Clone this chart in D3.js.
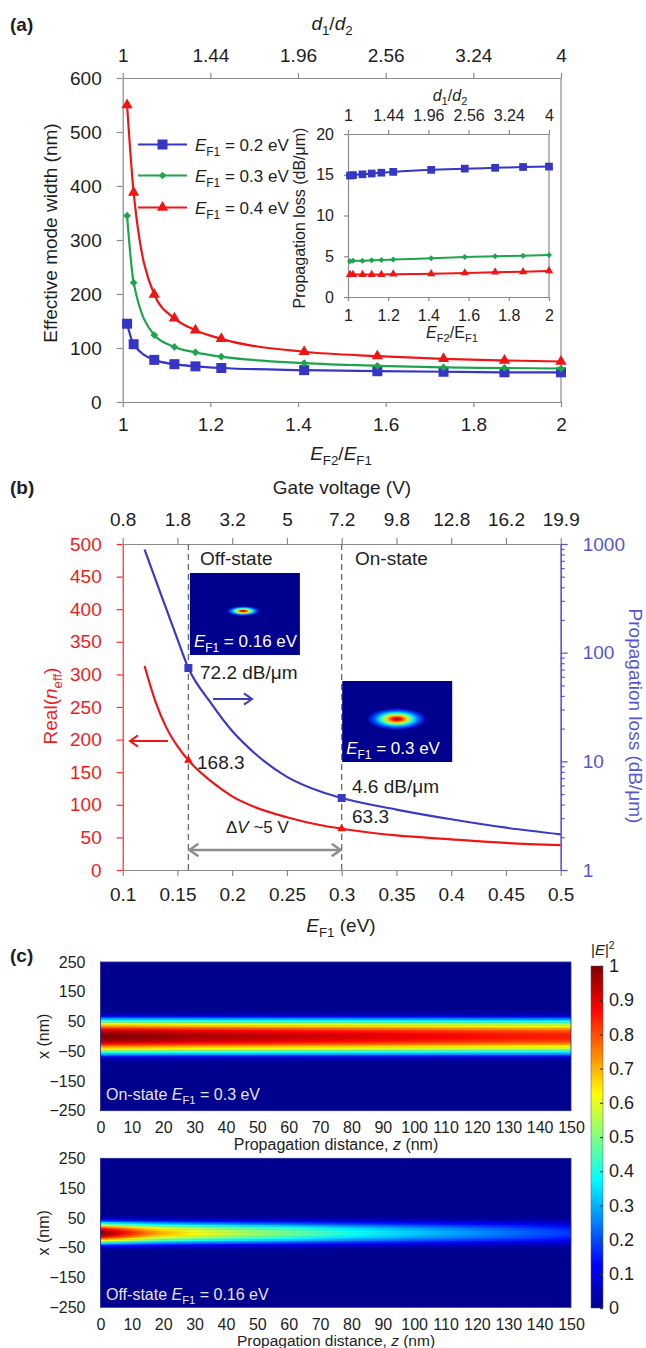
<!DOCTYPE html>
<html>
<head>
<meta charset="utf-8">
<script src="https://cdn.jsdelivr.net/npm/d3@7"></script>
<style>
  body { margin: 0; background: #fff; }
  svg { display: block; font-family: "Liberation Sans", Arial, sans-serif; }
</style>
</head>
<body>
<svg id="fig" width="646" height="1348"></svg>
<script>
// ---- panel (a): effective mode width, inset = propagation loss
const ratio = [1.01, 1.025, 1.072, 1.118, 1.166, 1.225, 1.414, 1.581, 1.732, 1.871, 2.0]
const width02 = [145, 107, 78, 70, 66, 63, 59, 57, 56, 55, 55]
const width03 = [345, 221, 124, 102, 92, 84, 72, 67, 64, 63, 62]
const width04 = [550, 388, 199, 155, 133, 117, 93, 85, 80, 77, 75]
const loss02 = [14.9, 14.95, 15.05, 15.15, 15.25, 15.35, 15.6, 15.75, 15.85, 15.95, 16.0]
const loss03 = [4.4, 4.45, 4.45, 4.5, 4.55, 4.6, 4.75, 4.9, 5.0, 5.05, 5.15]
const loss04 = [2.75, 2.75, 2.75, 2.75, 2.75, 2.8, 2.85, 2.95, 3.05, 3.1, 3.2]
const legendLabels = ['0.2', '0.3', '0.4']
const ratioTicks = [1, 1.2, 1.4, 1.6, 1.8, 2]
const d1d2Labels = ['1', '1.44', '1.96', '2.56', '3.24', '4']
const widthTicks = [0, 100, 200, 300, 400, 500, 600]
const insetLossTicks = [0, 5, 10, 15, 20]

// ---- panel (b): Real(neff) and loss vs EF1
const ef1 = [0.12, 0.13, 0.14, 0.15, 0.16, 0.18, 0.2, 0.22, 0.25, 0.28, 0.3, 0.35, 0.4, 0.45, 0.5]
const neffReal = [313, 258, 218, 190, 168.3, 137, 113, 97, 81, 69, 63.3, 53, 47, 41.5, 38]
const lossDb = [890, 470, 250, 133, 72.2, 35, 19, 12, 7.2, 5.3, 4.6, 3.6, 2.93, 2.45, 2.13]
const stateEf1 = [0.16, 0.3]
const stateNeff = [168.3, 63.3]
const stateLoss = [72.2, 4.6]
const ef1Ticks = [0.1, 0.15, 0.2, 0.25, 0.3, 0.35, 0.4, 0.45, 0.5]
const gateLabels = ['0.8', '1.8', '3.2', '5', '7.2', '9.8', '12.8', '16.2', '19.9']
const neffTicks = [0, 50, 100, 150, 200, 250, 300, 350, 400, 450, 500]
const lossMajor = [1, 10, 100, 1000]
const lossMinor = [2, 3, 4, 5, 6, 7, 8, 9, 20, 30, 40, 50, 60, 70, 80, 90, 200, 300, 400, 500, 600, 700, 800, 900]

// ---- panel (c): |E|^2 along propagation
const zTicks = [0, 10, 20, 30, 40, 50, 60, 70, 80, 90, 100, 110, 120, 130, 140, 150]
const xTicks = [250, 150, 50, -50, -150, -250]
const cbTicks = [0, 0.1, 0.2, 0.3, 0.4, 0.5, 0.6, 0.7, 0.8, 0.9, 1]
const zOn = [0, 10, 20, 30, 40, 50, 60, 70, 80, 90, 100, 110, 120, 130, 140, 150]
const peakOn = [1.0, 0.99, 0.975, 0.96, 0.95, 0.94, 0.93, 0.92, 0.91, 0.9, 0.89, 0.88, 0.87, 0.86, 0.855, 0.85]
const zOff = [0, 5, 10, 15, 20, 30, 45, 60, 80, 100, 120, 150]
const peakOff = [1.0, 0.92, 0.84, 0.76, 0.7, 0.63, 0.55, 0.49, 0.4, 0.33, 0.27, 0.18]
const beamOffset = [0, 5, 10, 15, 20, 25, 30, 35, 40, 45, 50, 55, 60, 65, 70, 75, 80, 85, 90]
const profileOn = [1.0, 0.995, 0.98, 0.96, 0.92, 0.87, 0.8, 0.73, 0.66, 0.58, 0.49, 0.4, 0.3, 0.2, 0.11, 0.05, 0.02, 0.01, 0]
const profileOff = [1.0, 0.98, 0.94, 0.87, 0.77, 0.64, 0.5, 0.36, 0.23, 0.13, 0.06, 0.02, 0, 0, 0, 0, 0, 0, 0]

const ink = '#1e1e1e'
const gray = '#8a8a8a'
const blue = '#3535c6'
const green = '#1ea44c'
const red = '#f01414'

const svg = d3.select('#fig')
const defs = svg.append('defs')

// text with italic / sub / sup pieces
function rich(sel, parts, fs) {
  let shift = 0
  parts.forEach(([t, s]) => {
    const ts = sel.append('tspan').text(t)
    let target = 0
    if (s === 'sub') target = fs * 0.28
    if (s === 'sup') target = -fs * 0.42
    if (s === 'sub' || s === 'sup') ts.attr('font-size', fs * 0.7)
    if (s === 'i') ts.attr('font-style', 'italic')
    if (target !== shift) {
      ts.attr('dy', target - shift)
      shift = target
    }
  })
  return sel
}

function label(x, y, parts, fs, opts = {}) {
  const t = svg.append('text')
    .attr('x', x)
    .attr('y', y)
    .attr('font-size', fs)
    .attr('fill', opts.fill || ink)
    .attr('text-anchor', opts.anchor || 'start')
  if (opts.rotate) t.attr('transform', `rotate(${opts.rotate},${x},${y})`)
  if (opts.weight) t.attr('font-weight', opts.weight)
  return rich(t, parts, fs)
}

function axisStyle(g, stroke, fs, fill) {
  g.attr('font-family', null).attr('font-size', null)
  g.select('.domain').attr('stroke', stroke).attr('stroke-width', 1.2)
  g.selectAll('.tick line').attr('stroke', stroke).attr('stroke-width', 1.2)
  g.selectAll('.tick text').attr('font-size', fs).attr('fill', fill)
}

function marker(g, shape, size, x, y, color) {
  const type = shape === 'triangle' ? d3.symbolTriangle : d3.symbolSquare
  g.append('path')
    .attr('d', d3.symbol(type, size)())
    .attr('fill', color)
    .attr('transform', `translate(${x},${y})` + (shape === 'diamond' ? ' rotate(45)' : ''))
}

// ================= panel (a) =================
const xA = d3.scaleLinear().domain([1, 2]).range([122.7, 561])
const yA = d3.scaleLinear().domain([0, 600]).range([402, 78])
const xI = d3.scaleLinear().domain([1, 2]).range([348, 549])
const yI = d3.scaleLinear().domain([0, 20]).range([297, 134])

axisStyle(svg.append('g').attr('transform', 'translate(0,402)')
  .call(d3.axisBottom(xA).tickValues(ratioTicks).tickSize(5).tickSizeOuter(0).tickPadding(11).tickFormat(d3.format('~g'))), gray, 19, ink)
axisStyle(svg.append('g').attr('transform', 'translate(0,78)')
  .call(d3.axisTop(xA).tickValues(ratioTicks).tickSize(5).tickSizeOuter(0).tickPadding(11).tickFormat((d, i) => d1d2Labels[i])), gray, 19, ink)
axisStyle(svg.append('g').attr('transform', 'translate(122.7,0)')
  .call(d3.axisLeft(yA).tickValues(widthTicks).tickSize(6).tickSizeOuter(0).tickPadding(15)), gray, 19, ink)
svg.append('line').attr('x1', xA(2)).attr('x2', xA(2)).attr('y1', yA(600)).attr('y2', yA(0))
  .attr('stroke', gray).attr('stroke-width', 1.2)

label(10, 31, [['(a)']], 19, { weight: 'bold' })
label(332, 30, [['d', 'i'], ['1', 'sub'], ['/'], ['d', 'i'], ['2', 'sub']], 19, { anchor: 'middle' })
label(341, 460, [['E', 'i'], ['F2', 'sub'], ['/'], ['E', 'i'], ['F1', 'sub']], 19, { anchor: 'middle' })
label(57, 233, [['Effective mode width (nm)']], 19, { anchor: 'middle', rotate: -90 })

const seriesA = [
  { w: width02, l: loss02, color: blue, shape: 'square', size: 100, isize: 60 },
  { w: width03, l: loss03, color: green, shape: 'diamond', size: 30, isize: 18 },
  { w: width04, l: loss04, color: red, shape: 'triangle', size: 55, isize: 30 }
]

const mainG = svg.append('g')
seriesA.forEach(s => {
  const line = d3.line().x((d, i) => xA(ratio[i])).y(d => yA(d)).curve(d3.curveMonotoneX)
  mainG.append('path').attr('d', line(s.w)).attr('fill', 'none').attr('stroke', s.color).attr('stroke-width', 2.2)
  s.w.forEach((d, i) => marker(mainG, s.shape, s.size, xA(ratio[i]), yA(d), s.color))
})

// legend
const legendY = [144.5, 175.5, 207.5]
seriesA.forEach((s, i) => {
  svg.append('line').attr('x1', 138).attr('x2', 187).attr('y1', legendY[i]).attr('y2', legendY[i])
    .attr('stroke', s.color).attr('stroke-width', 2.2)
  marker(svg, s.shape, s.size, 162.5, legendY[i], s.color)
  label(195, legendY[i] + 6.5, [['E', 'i'], ['F1', 'sub'], [' = ' + legendLabels[i] + ' eV']], 17)
})

// inset
axisStyle(svg.append('g').attr('transform', 'translate(0,297)')
  .call(d3.axisBottom(xI).tickValues(ratioTicks).tickSize(4).tickSizeOuter(0).tickPadding(9).tickFormat(d3.format('~g'))), gray, 16, ink)
axisStyle(svg.append('g').attr('transform', 'translate(0,134)')
  .call(d3.axisTop(xI).tickValues(ratioTicks).tickSize(4).tickSizeOuter(0).tickPadding(9).tickFormat((d, i) => d1d2Labels[i])), gray, 16, ink)
axisStyle(svg.append('g').attr('transform', 'translate(348,0)')
  .call(d3.axisLeft(yI).tickValues(insetLossTicks).tickSize(4).tickSizeOuter(0).tickPadding(10)), gray, 16, ink)
svg.append('line').attr('x1', xI(2)).attr('x2', xI(2)).attr('y1', yI(20)).attr('y2', yI(0))
  .attr('stroke', gray).attr('stroke-width', 1.2)

label(450, 101, [['d', 'i'], ['1', 'sub'], ['/'], ['d', 'i'], ['2', 'sub']], 16, { anchor: 'middle' })
label(452, 338, [['E', 'i'], ['F2', 'sub'], ['/E'], ['F1', 'sub']], 16, { anchor: 'middle' })
label(305, 218, [['Propagation loss (dB/\u03bcm)']], 16, { anchor: 'middle', rotate: -90 })

const insetG = svg.append('g')
seriesA.forEach(s => {
  const line = d3.line().x((d, i) => xI(ratio[i])).y(d => yI(d)).curve(d3.curveMonotoneX)
  insetG.append('path').attr('d', line(s.l)).attr('fill', 'none').attr('stroke', s.color).attr('stroke-width', 2)
  s.l.forEach((d, i) => marker(insetG, s.shape, s.isize, xI(ratio[i]), yI(d), s.color))
})

// ================= panel (b) =================
const xB = d3.scaleLinear().domain([0.1, 0.5]).range([122.7, 560.7])
const yBL = d3.scaleLinear().domain([0, 500]).range([870, 544])
const yBR = d3.scaleLog().domain([1, 1000]).range([870, 544])
const redAxis = '#ff2626'
const blueAxis = '#5656d4'

axisStyle(svg.append('g').attr('transform', 'translate(0,870)')
  .call(d3.axisBottom(xB).tickValues(ef1Ticks).tickSize(6).tickSizeOuter(0).tickPadding(12).tickFormat(d3.format('~g'))), gray, 19, ink)
axisStyle(svg.append('g').attr('transform', 'translate(0,544)')
  .call(d3.axisTop(xB).tickValues(ef1Ticks).tickSize(6).tickSizeOuter(0).tickPadding(12).tickFormat((d, i) => gateLabels[i])), gray, 19, ink)
axisStyle(svg.append('g').attr('transform', 'translate(122.7,0)')
  .call(d3.axisLeft(yBL).tickValues(neffTicks).tickSize(6).tickSizeOuter(0).tickPadding(15)), redAxis, 19, '#f01c1c')
axisStyle(svg.append('g').attr('transform', 'translate(560.7,0)')
  .call(d3.axisRight(yBR).tickValues(lossMinor).tickSize(4).tickSizeOuter(0).tickFormat('')), blueAxis, 19, blueAxis)
axisStyle(svg.append('g').attr('transform', 'translate(560.7,0)')
  .call(d3.axisRight(yBR).tickValues(lossMajor).tickSize(7).tickSizeOuter(0).tickPadding(15).tickFormat(d3.format('d'))), blueAxis, 19, blueAxis)

label(10, 494, [['(b)']], 19, { weight: 'bold' })
label(342, 494, [['Gate voltage (V)']], 19, { anchor: 'middle' })
label(341, 932, [['E', 'i'], ['F1', 'sub'], [' (eV)']], 19, { anchor: 'middle' })
label(57, 706, [['Real('], ['n', 'i'], ['eff', 'sub'], [')']], 19, { anchor: 'middle', rotate: -90, fill: '#f01c1c' })
label(629, 716, [['Propagation loss (dB/\u03bcm)']], 19, { anchor: 'middle', rotate: 90, fill: blueAxis })

// state dashed lines
stateEf1.forEach(e => {
  svg.append('line').attr('x1', xB(e)).attr('x2', xB(e)).attr('y1', yBL(500)).attr('y2', yBL(0))
    .attr('stroke', '#6a6a6a').attr('stroke-width', 1.3).attr('stroke-dasharray', '6,4')
})

const curveB = svg.append('g')
curveB.append('path')
  .attr('d', d3.line().x((d, i) => xB(ef1[i])).y(d => yBL(d)).curve(d3.curveMonotoneX)(neffReal))
  .attr('fill', 'none').attr('stroke', red).attr('stroke-width', 2.2)
curveB.append('path')
  .attr('d', d3.line().x((d, i) => xB(ef1[i])).y(d => yBR(d)).curve(d3.curveMonotoneX)(lossDb))
  .attr('fill', 'none').attr('stroke', '#3a3ac4').attr('stroke-width', 2.2)

// mode profile thumbnails
const spot = defs.append('radialGradient').attr('id', 'spot')
const spotStops = [[0, '#b00000'], [0.16, '#ff1a00'], [0.32, '#ffd000'], [0.45, '#80ff80'], [0.58, '#00e0ff'], [0.78, '#0040ff'], [1, '#00008f']]
spotStops.forEach(([o, c]) => spot.append('stop').attr('offset', o).attr('stop-color', c))

function thumb(x0, y0, w, h, cx, cy, rx, ry, valueText) {
  svg.append('rect').attr('x', x0).attr('y', y0).attr('width', w).attr('height', h).attr('fill', '#00008f')
  svg.append('ellipse').attr('cx', cx).attr('cy', cy).attr('rx', rx).attr('ry', ry).attr('fill', 'url(#spot)')
  label(x0 + 4, y0 + h - 8, [['E', 'i'], ['F1', 'sub'], [' = ' + valueText + ' eV']], 17, { fill: '#ffffff' })
}
thumb(xB(0.16) + 1.5, 573, 110, 82, 243.3, 611, 17, 5, '0.16')
thumb(xB(0.3) + 0.5, 681, 110, 81, 396.7, 719, 30, 11, '0.3')

stateEf1.forEach((e, i) => {
  marker(svg, 'triangle', 32, xB(e), yBL(stateNeff[i]), red)
  marker(svg, 'square', 64, xB(e), yBR(stateLoss[i]), '#3a3ac4')
})

label(200, 565, [['Off-state']], 19)
label(355, 565, [['On-state']], 19)
label(200, 679, [['72.2 dB/\u03bcm']], 19)
label(197, 769, [['168.3']], 19)
label(352, 793, [['4.6 dB/\u03bcm']], 19)
label(352, 823, [['63.3']], 19)
label(226, 833, [['\u0394'], ['V', 'i'], [' ~5 V']], 17)

function arrow(x1, x2, y, color, width, heads, hs) {
  svg.append('line').attr('x1', x1).attr('x2', x2).attr('y1', y).attr('y2', y)
    .attr('stroke', color).attr('stroke-width', width)
  const head = (x, dir) => svg.append('path')
    .attr('d', `M${x + dir * hs},${y - hs * 0.7}L${x},${y}L${x + dir * hs},${y + hs * 0.7}`)
    .attr('fill', 'none').attr('stroke', color).attr('stroke-width', width).attr('stroke-linejoin', 'miter')
  if (heads.includes('l')) head(x1, 1)
  if (heads.includes('r')) head(x2, -1)
}
arrow(213, 252, 699, '#3a3ac4', 2, 'r', 8)
arrow(130, 168, 741, red, 2, 'l', 8)
arrow(xB(0.16) + 1, xB(0.3) - 1, 850, '#8e8e8e', 2.6, 'lr', 9)

// ================= panel (c) =================
const jet = d3.scaleLinear()
  .domain([0, 0.125, 0.375, 0.625, 0.875, 1])
  .range(['#00008f', '#0000ff', '#00ffff', '#ffff00', '#ff0000', '#800000'])
  .clamp(true)
const zC = d3.scaleLinear().domain([0, 150]).range([100.5, 571])
const xTop = d3.scaleLinear().domain([-250, 250]).range([1110.7, 962])
const xBot = d3.scaleLinear().domain([-250, 250]).range([1307.3, 1158.3])

function field(yScale, zs, peak, profile, id) {
  const g = svg.append('g')
  g.append('rect').attr('x', zC(0)).attr('y', yScale(250))
    .attr('width', zC(150) - zC(0)).attr('height', yScale(-250) - yScale(250))
    .attr('fill', jet(0))
  const rows = []
  beamOffset.forEach((o, j) => {
    rows.push([o, profile[j]])
    if (o > 0) rows.push([-o, profile[j]])
  })
  rows.forEach(([o, p], k) => {
    if (p <= 0) return
    const gid = id + k
    const lg = defs.append('linearGradient').attr('id', gid)
      .attr('gradientUnits', 'userSpaceOnUse')
      .attr('x1', zC(0)).attr('x2', zC(150)).attr('y1', 0).attr('y2', 0)
    zs.forEach((z, i) => lg.append('stop').attr('offset', z / 150).attr('stop-color', jet(peak[i] * p)))
    const y0 = yScale(o + 2.5)
    const y1 = yScale(o - 2.5)
    g.append('rect').attr('x', zC(0)).attr('y', y0).attr('width', zC(150) - zC(0))
      .attr('height', y1 - y0 + 0.4).attr('fill', `url(#${gid})`)
  })
  g.append('rect').attr('x', zC(0)).attr('y', yScale(250))
    .attr('width', zC(150) - zC(0)).attr('height', yScale(-250) - yScale(250))
    .attr('fill', 'none').attr('stroke', '#2a2a9a').attr('stroke-width', 0.8)

  const ax = svg.append('g').attr('transform', `translate(0,${yScale(-250)})`)
    .call(d3.axisBottom(zC).tickValues(zTicks).tickSize(0).tickPadding(11))
  ax.select('.domain').remove()
  axisStyle(ax, ink, 16, ink)
  const ay = svg.append('g').attr('transform', `translate(${zC(0)},0)`)
    .call(d3.axisLeft(yScale).tickValues(xTicks).tickSize(0).tickPadding(15))
  ay.select('.domain').remove()
  axisStyle(ay, ink, 16, ink)
  label(49, (yScale(250) + yScale(-250)) / 2, [['x (nm)']], 16, { anchor: 'middle', rotate: -90 })
}

field(xTop, zOn, peakOn, profileOn, 'gon')
field(xBot, zOff, peakOff, profileOff, 'goff')

label(10, 962, [['(c)']], 19, { weight: 'bold' })
label(336, 1150, [['Propagation distance, '], ['z', 'i'], [' (nm)']], 16, { anchor: 'middle' })
label(336, 1346, [['Propagation distance, '], ['z', 'i'], [' (nm)']], 15.5, { anchor: 'middle' })
label(106, 1100, [['On-state '], ['E', 'i'], ['F1', 'sub'], [' = 0.3 eV']], 16, { fill: '#e4e4e4' })
label(106, 1300, [['Off-state '], ['E', 'i'], ['F1', 'sub'], [' = 0.16 eV']], 16, { fill: '#e4e4e4' })

// colorbar
const cbScale = d3.scaleLinear().domain([0, 1]).range([1308, 966])
const cbGrad = defs.append('linearGradient').attr('id', 'cb')
  .attr('x1', 0).attr('x2', 0).attr('y1', 1).attr('y2', 0)
jet.domain().forEach(v => cbGrad.append('stop').attr('offset', v).attr('stop-color', jet(v)))
svg.append('rect').attr('x', 591).attr('y', cbScale(1)).attr('width', 12)
  .attr('height', cbScale(0) - cbScale(1)).attr('fill', 'url(#cb)')
  .attr('stroke', '#555').attr('stroke-width', 0.5)
const cbAxis = svg.append('g').attr('transform', 'translate(603,0)')
  .call(d3.axisRight(cbScale).tickValues(cbTicks).tickSize(-3).tickPadding(6).tickFormat(d3.format('~g')))
cbAxis.select('.domain').remove()
axisStyle(cbAxis, '#333', 18, ink)
label(591, 955, [['|'], ['E', 'i'], ['|'], ['2', 'sup']], 15)
</script>
</body>
</html>
